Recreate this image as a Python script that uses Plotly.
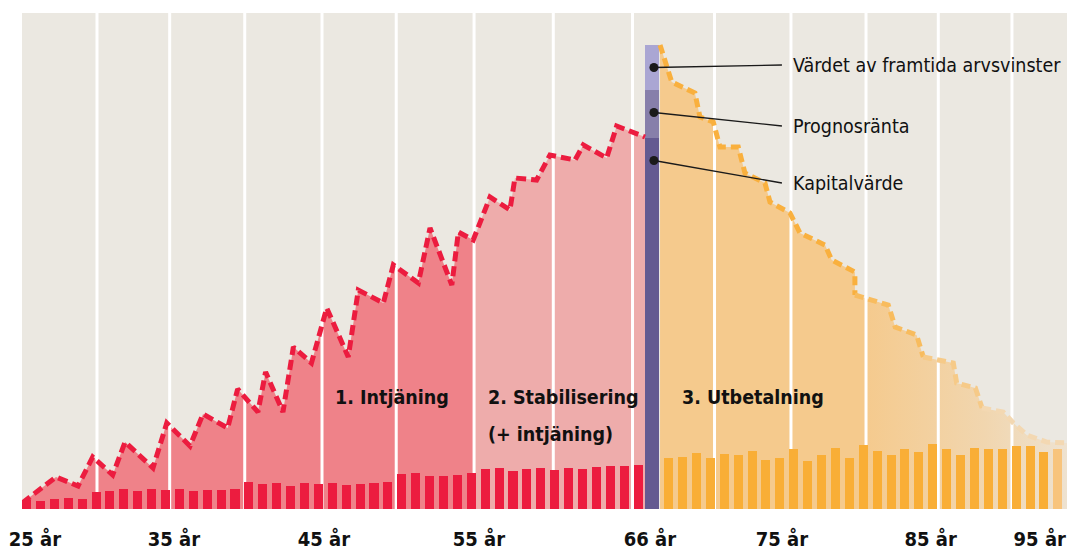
import plotly.graph_objects as go

# x is measured in yearly steps: 0 = first bar (25 år), 45 = the stacked bar at 66 år
age_labels = ["25 år", "35 år", "45 år", "55 år", "66 år", "75 år", "85 år", "95 år"]
age_label_pos = [0.6, 10.6, 21.4, 32.55, 44.85, 54.35, 65.05, 72.9]

# white vertical guide lines
grid_pos = [5.07, 10.3, 15.7, 21.26, 26.6, 32.2, 37.9, 43.6, 49.5, 55.0, 60.4, 65.6, 70.9]

# yearly deposits (red) before 66 and payouts (orange) after
deposits = [9, 8, 10, 11, 10, 17, 18, 20, 18, 20, 19, 20, 18, 19, 19, 20,
            27, 25, 26, 23, 26, 25, 26, 24, 25, 26, 27, 35, 36, 33, 33, 34,
            36, 40, 41, 38, 40, 41, 39, 41, 40, 42, 43, 43, 44]
payouts = [51, 52, 56, 51, 55, 54, 58, 49, 51, 60, 48, 54, 61, 51, 64, 58,
           54, 60, 57, 65, 60, 54, 61, 60, 60, 63, 63, 57, 60]

# pension capital while earning / stabilising
capital_x = [-0.32, 2.12, 3.71, 4.76, 6.2, 7.09, 9.1, 10.09, 11.76, 12.7, 14.47,
             15.19, 16.65, 17.2, 18.45, 19.2, 20.5, 21.6, 23.15, 23.87, 25.67,
             26.39, 28.19, 29.03, 30.6, 31.07, 32.14, 33.35, 34.78, 35.14, 36.7,
             37.66, 39.46, 40.06, 41.74, 42.46, 44.5]
capital_y = [6, 32, 23, 52, 34, 67, 41, 86, 63, 95, 81, 120, 97, 137, 97, 162,
             146, 201, 152, 219, 206, 244, 226, 281, 224, 277, 269, 312, 299,
             331, 329, 354, 349, 364, 351, 383, 372]

# remaining capital during payout
remaining_x = [45.58, 46.42, 48.09, 48.45, 49.41, 49.89, 51.21, 51.69, 53.13,
               53.49, 54.93, 55.65, 57.45, 57.93, 59.6, 59.6, 62.0, 62.5, 64.04,
               64.52, 66.68, 66.92, 68.27, 68.75, 70.27, 71.0, 71.96, 73.4, 74.86]
remaining_y = [464, 427, 416, 392, 387, 362, 362, 336, 326, 307, 296, 276, 264,
               249, 237, 214, 204, 182, 174, 152, 146, 126, 121, 101, 97, 86,
               74, 67, 66]

# the stacked bar at 66 år
pension_parts = ["Kapitalvärde", "Prognosränta", "Värdet av framtida arvsvinster"]
pension_values = [371, 48, 45]

phase_labels = ["1. Intjäning", "2. Stabilisering<br>(+ intjäning)", "3. Utbetalning"]

BG = "#EBE8E1"
RED = "#EC1C3F"
FILL1 = "#EF8289"
FILL2 = "#EEACAB"
ORANGE = "#F9AE36"
OFILL = "#F5CA8D"
PURPLES = ["#645A91", "#877FAA", "#AAA6D3"]
FONT = "DejaVu Sans Condensed, Liberation Sans Narrow, sans-serif"

X_RANGE = [-0.325, 74.86]
Y_RANGE = [0, 496]

fig = go.Figure()

# ----- base layer: areas + guide lines
split = next(i for i, x in enumerate(capital_x) if x >= 32)
fig.add_trace(go.Scatter(x=capital_x[:split + 1], y=capital_y[:split + 1], mode="none",
                         fill="tozeroy", fillcolor=FILL1, hoverinfo="skip"))
fig.add_trace(go.Scatter(x=capital_x[split:], y=capital_y[split:], mode="none",
                         fill="tozeroy", fillcolor=FILL2, hoverinfo="skip"))
fig.add_trace(go.Scatter(
    x=remaining_x, y=remaining_y, mode="none", fill="tozeroy", hoverinfo="skip",
    fillgradient=dict(type="horizontal", start=45.5, stop=X_RANGE[1],
                      colorscale=[[0, OFILL], [0.5, OFILL], [0.8, "#F1D6AF"], [1, "#EEE2D0"]]),
))

gx, gy = [], []
for g in grid_pos:
    gx += [g, g, None]
    gy += [Y_RANGE[0], Y_RANGE[1], None]
fig.add_trace(go.Scatter(x=gx, y=gy, mode="lines", line=dict(color="white", width=3),
                         hoverinfo="skip"))

# ----- second layer: bars
fig.add_trace(go.Bar(x=list(range(len(deposits))), y=deposits, width=0.65,
                     marker=dict(color=RED, line_width=0), xaxis="x2", yaxis="y2"))
payout_bar_x = [46.2 + i for i in range(len(payouts))]
payout_colors = [ORANGE] * (len(payouts) - 1) + ["#F8C47C"]
fig.add_trace(go.Bar(x=payout_bar_x, y=payouts, width=0.65,
                     marker=dict(color=payout_colors, line_width=0), xaxis="x2", yaxis="y2"))
for name, value, color in zip(pension_parts, pension_values, PURPLES):
    fig.add_trace(go.Bar(x=[45], y=[value], width=1.0, name=name,
                         marker=dict(color=color, line_width=0), xaxis="x2", yaxis="y2"))

# ----- top layer: dashed lines, dots
fig.add_trace(go.Scatter(x=capital_x, y=capital_y, mode="lines", xaxis="x3", yaxis="y3",
                         line=dict(color=RED, width=5, dash="10px,5px")))

# fade the payout line towards the end
fade = [(60, "#F9B03E"), (65, "#F8BC5E"), (69.5, "#F6CA88"), (99, "#F3D8B2")]
start = 0
for limit, color in fade:
    end = max(i for i, x in enumerate(remaining_x) if x <= limit)
    if end <= start:
        continue
    fig.add_trace(go.Scatter(x=remaining_x[start:end + 1], y=remaining_y[start:end + 1],
                             mode="lines", xaxis="x3", yaxis="y3",
                             line=dict(color=color, width=5, dash="9px,5px")))
    start = end

tops, acc = [], 0
for v in pension_values:
    acc += v
    tops.append(acc)
dot_y = [t - 22.5 for t in tops]
fig.add_trace(go.Scatter(x=[45.14] * 3, y=dot_y, mode="markers", xaxis="x3", yaxis="y3",
                         marker=dict(color="#1A1A1A", size=9)))

annotations = []
for text, y, ty in zip(pension_parts, dot_y, [326, 383, 444]):
    annotations.append(dict(
        x=45.14, y=y, ax=54.35, ay=ty, axref="x", ayref="y", xref="x", yref="y",
        text=text, showarrow=True, arrowhead=0, arrowwidth=1.3, arrowcolor="#1A1A1A",
        xanchor="left", borderpad=10,
        font=dict(family=FONT, size=19.5, color="#111"),
    ))

# phase labels, one annotation per text line
for text, x in zip(phase_labels, [22.05, 33.05, 47.0]):
    for k, line in enumerate(text.split("<br>")):
        annotations.append(dict(
            x=x, y=112 - 37 * k, xref="x", yref="y", text=line, showarrow=False,
            xanchor="left", yanchor="middle", align="left",
            font=dict(family=FONT, size=19.5, color="#111", weight="bold"),
        ))

hidden = dict(range=X_RANGE, visible=False, fixedrange=True)
fig.update_layout(
    width=1067, height=555,
    margin=dict(l=22, r=0, t=13, b=46),
    paper_bgcolor="white", plot_bgcolor=BG,
    showlegend=False, barmode="stack", bargap=0,
    xaxis=dict(range=X_RANGE, tickvals=age_label_pos, ticktext=age_labels,
               showgrid=False, zeroline=False, showline=False, automargin=False,
               ticks="outside", ticklen=12, tickcolor="rgba(0,0,0,0)",
               ticklabeloverflow="allow",
               tickfont=dict(family=FONT, size=20, color="#111", weight="bold")),
    yaxis=dict(range=Y_RANGE, visible=False),
    xaxis2=dict(hidden, overlaying="x"),
    yaxis2=dict(range=Y_RANGE, visible=False, overlaying="y"),
    xaxis3=dict(hidden, overlaying="x"),
    yaxis3=dict(range=Y_RANGE, visible=False, overlaying="y"),
    annotations=annotations,
)

# the page gets no default body margin, so the figure fills the window exactly
fig.write_html(
    "out.html",
    config={"displayModeBar": False},
    post_script="document.body.style.margin='0';document.documentElement.style.overflow='hidden';",
)
